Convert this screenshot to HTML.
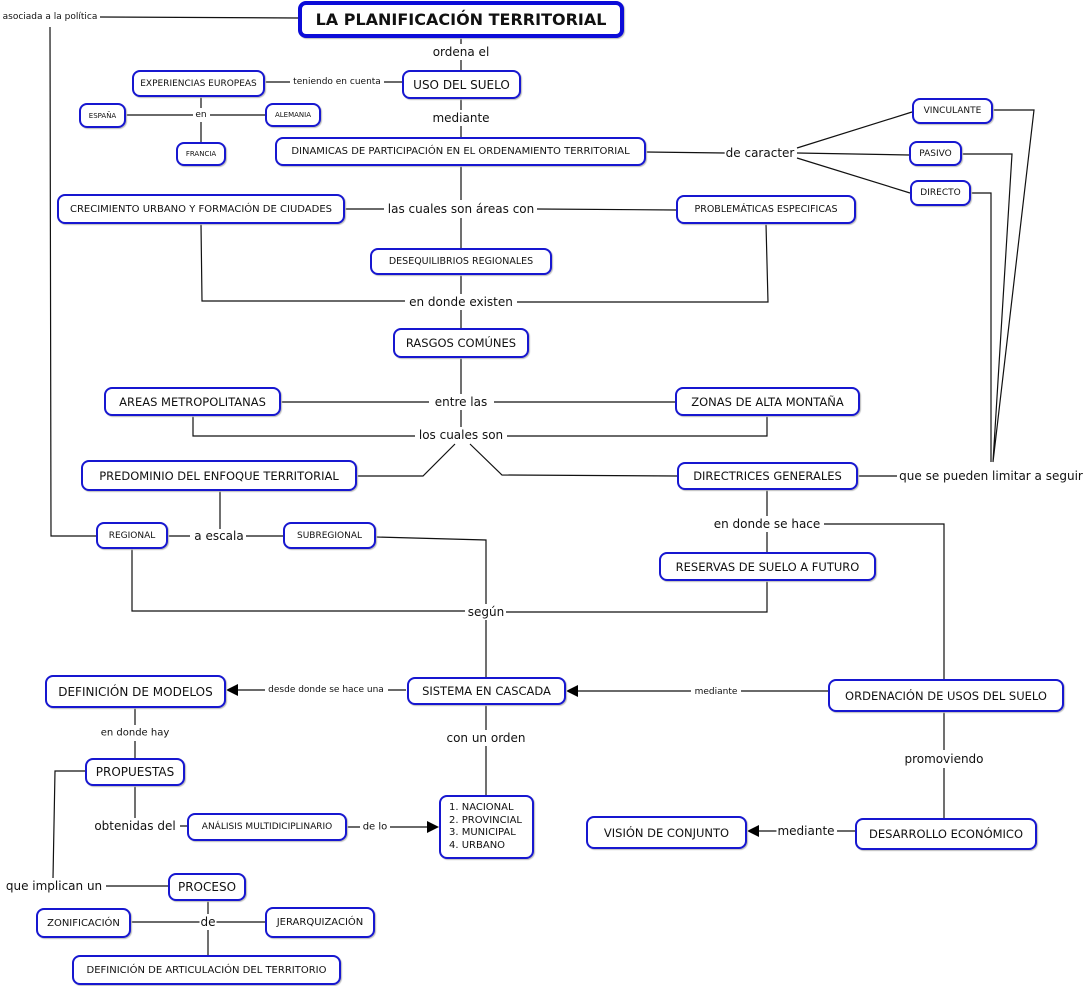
<!DOCTYPE html>
<html><head><meta charset="utf-8"><style>
body{margin:0;width:1087px;height:986px;background:#fff;position:relative;overflow:hidden;font-family:"DejaVu Sans","Liberation Sans",sans-serif;color:#111}
.n{position:absolute;box-sizing:border-box;border:2px solid #1717d0;border-radius:8px;background:#fff;display:flex;align-items:center;justify-content:center;white-space:nowrap;box-shadow:1px 1px 1px #bbb}
.l{position:absolute;transform:translate(-50%,-50%);background:#fff;white-space:nowrap;padding:0 1px}
svg{position:absolute;left:0;top:0}
</style></head><body>
<svg width="1087" height="986" stroke="#111" stroke-width="1.2" fill="none">
<path d="M100 17L298 18M50 27L51 536L96 536"/>
<path d="M461 38V44M461 60V70M265 82H290M384 82H402M201 97V108M126 115H193M210 115H265M201 122V142"/>
<path d="M461 99V110M461 126V137M646 152L725 153M797 148L912 112M797 153L909 155M797 158L910 193"/>
<path d="M993 110H1034L993 462M962 154H1012L993 462M971 193H991V462M858 476H897"/>
<path d="M461 166V200M345 209H384M537 209L676 210M461 218V248M201 224L202 301H405M766 224L768 302H517M461 275V294M461 310V328"/>
<path d="M461 358V394M281 402H429M494 402H675M461 410V427M193 416V436H415M767 416V436H507M455 444L423 476H357M470 444L502 475L677 476"/>
<path d="M220 491V529M168 536H190M246 536H283M132 549V611H465M376 537L486 540V604M767 581V612H506M486 620V677"/>
<path d="M767 490V516M824 524H944V679M767 532V552"/>
<path d="M406 690H388M265 690H236M828 691H741M691 691H578M486 705V730M486 746V795M135 708V725M135 741V758M135 786V818M180 826H187M347 827H360M390 827H428"/>
<path d="M85 771H55L53 878M106 886H168M208 901V914M200 922H131M216 922H265M208 930V955M944 712V750M944 768V818M855 831H837M778 831H759"/>
<g fill="#000" stroke="none"><path d="M226 690L238 684V696Z"/><path d="M566 691L578 685V697Z"/><path d="M439 827L427 821V833Z"/><path d="M747 831L759 825V837Z"/></g>
</svg>
<div class="n" style="left:298px;top:1px;width:326px;height:37px;border:4px solid #0b0bd8;font-weight:bold;font-size:16px">LA PLANIFICACIÓN TERRITORIAL</div>
<div class="n" style="left:132px;top:70px;width:133px;height:27px;font-size:9px">EXPERIENCIAS EUROPEAS</div>
<div class="n" style="left:402px;top:70px;width:119px;height:29px;font-size:12px">USO DEL SUELO</div>
<div class="n" style="left:79px;top:103px;width:47px;height:25px;font-size:7px">ESPAÑA</div>
<div class="n" style="left:265px;top:103px;width:56px;height:24px;font-size:7px">ALEMANIA</div>
<div class="n" style="left:176px;top:142px;width:50px;height:24px;font-size:7px">FRANCIA</div>
<div class="n" style="left:275px;top:137px;width:371px;height:29px;font-size:10px">DINAMICAS DE PARTICIPACIÓN EN EL ORDENAMIENTO TERRITORIAL</div>
<div class="n" style="left:57px;top:194px;width:288px;height:30px;font-size:10px">CRECIMIENTO URBANO Y FORMACIÓN DE CIUDADES</div>
<div class="n" style="left:676px;top:195px;width:180px;height:29px;font-size:9.5px">PROBLEMÁTICAS ESPECIFICAS</div>
<div class="n" style="left:912px;top:98px;width:81px;height:26px;font-size:9px">VINCULANTE</div>
<div class="n" style="left:909px;top:141px;width:53px;height:25px;font-size:9px">PASIVO</div>
<div class="n" style="left:910px;top:180px;width:61px;height:26px;font-size:9px">DIRECTO</div>
<div class="n" style="left:370px;top:248px;width:182px;height:27px;font-size:9.5px">DESEQUILIBRIOS REGIONALES</div>
<div class="n" style="left:393px;top:328px;width:136px;height:30px;font-size:11.5px">RASGOS COMÚNES</div>
<div class="n" style="left:104px;top:387px;width:177px;height:29px;font-size:11.5px">AREAS METROPOLITANAS</div>
<div class="n" style="left:675px;top:387px;width:185px;height:29px;font-size:11.5px">ZONAS DE ALTA MONTAÑA</div>
<div class="n" style="left:81px;top:460px;width:276px;height:31px;font-size:11.5px">PREDOMINIO DEL ENFOQUE TERRITORIAL</div>
<div class="n" style="left:677px;top:462px;width:181px;height:28px;font-size:11.5px">DIRECTRICES GENERALES</div>
<div class="n" style="left:96px;top:522px;width:72px;height:27px;font-size:9px">REGIONAL</div>
<div class="n" style="left:283px;top:522px;width:93px;height:27px;font-size:9px">SUBREGIONAL</div>
<div class="n" style="left:659px;top:552px;width:217px;height:29px;font-size:11.5px">RESERVAS DE SUELO A FUTURO</div>
<div class="n" style="left:407px;top:677px;width:159px;height:28px;font-size:11.5px">SISTEMA EN CASCADA</div>
<div class="n" style="left:45px;top:675px;width:181px;height:33px;font-size:12px">DEFINICIÓN DE MODELOS</div>
<div class="n" style="left:828px;top:679px;width:236px;height:33px;font-size:11.5px">ORDENACIÓN DE USOS DEL SUELO</div>
<div class="n" style="left:85px;top:758px;width:100px;height:28px;font-size:12px">PROPUESTAS</div>
<div class="n" style="left:187px;top:813px;width:160px;height:28px;font-size:9px">ANÁLISIS MULTIDICIPLINARIO</div>
<div class="n" style="left:439px;top:795px;width:95px;height:64px;font-size:10px;justify-content:flex-start;padding-left:8px;line-height:12.5px">1. NACIONAL<br>2. PROVINCIAL<br>3. MUNICIPAL<br>4. URBANO</div>
<div class="n" style="left:586px;top:816px;width:161px;height:33px;font-size:11.5px">VISIÓN DE CONJUNTO</div>
<div class="n" style="left:855px;top:818px;width:182px;height:32px;font-size:11.5px">DESARROLLO ECONÓMICO</div>
<div class="n" style="left:168px;top:873px;width:78px;height:28px;font-size:12px">PROCESO</div>
<div class="n" style="left:36px;top:908px;width:95px;height:30px;font-size:10px">ZONIFICACIÓN</div>
<div class="n" style="left:265px;top:907px;width:110px;height:31px;font-size:10px">JERARQUIZACIÓN</div>
<div class="n" style="left:72px;top:955px;width:269px;height:30px;font-size:10px">DEFINICIÓN DE ARTICULACIÓN DEL TERRITORIO</div>
<div class="l" style="left:50px;top:17px;font-size:9px">asociada a la política</div>
<div class="l" style="left:461px;top:52px;font-size:12px">ordena el</div>
<div class="l" style="left:337px;top:82px;font-size:9px">teniendo en cuenta</div>
<div class="l" style="left:201px;top:115px;font-size:9px">en</div>
<div class="l" style="left:461px;top:118px;font-size:12px">mediante</div>
<div class="l" style="left:760px;top:153px;font-size:12px">de caracter</div>
<div class="l" style="left:461px;top:209px;font-size:12px">las cuales son áreas con</div>
<div class="l" style="left:461px;top:302px;font-size:12px">en donde existen</div>
<div class="l" style="left:461px;top:402px;font-size:12px">entre las</div>
<div class="l" style="left:461px;top:435px;font-size:12px">los cuales son</div>
<div class="l" style="left:991px;top:476px;font-size:12px">que se pueden limitar a seguir</div>
<div class="l" style="left:219px;top:536px;font-size:12px">a escala</div>
<div class="l" style="left:767px;top:524px;font-size:12px">en donde se hace</div>
<div class="l" style="left:486px;top:612px;font-size:12px">según</div>
<div class="l" style="left:326px;top:690px;font-size:9px">desde donde se hace una</div>
<div class="l" style="left:716px;top:692px;font-size:9px">mediante</div>
<div class="l" style="left:135px;top:733px;font-size:10px">en donde hay</div>
<div class="l" style="left:486px;top:738px;font-size:12px">con un orden</div>
<div class="l" style="left:135px;top:826px;font-size:12px">obtenidas del</div>
<div class="l" style="left:375px;top:827px;font-size:10px">de lo</div>
<div class="l" style="left:944px;top:759px;font-size:12px">promoviendo</div>
<div class="l" style="left:806px;top:831px;font-size:12px">mediante</div>
<div class="l" style="left:54px;top:886px;font-size:12px">que implican un</div>
<div class="l" style="left:208px;top:922px;font-size:12px">de</div>
</body></html>
